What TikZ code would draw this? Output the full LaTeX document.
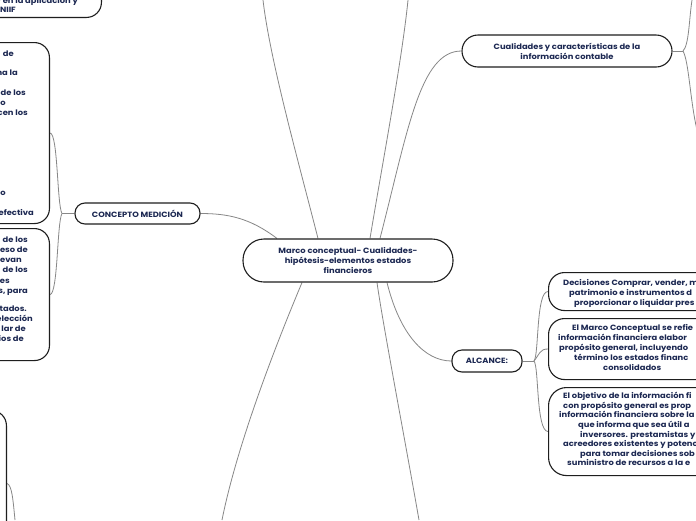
\documentclass[tikz,border=0pt]{standalone}
\usepackage{fontspec}
\setmainfont{Poppins}[FakeStretch=1.1]
\usetikzlibrary{calc,backgrounds}
\definecolor{txt}{RGB}{28,40,82}
\definecolor{edge}{RGB}{30,30,30}
\definecolor{conncol}{RGB}{135,135,135}
\begin{document}
\begin{tikzpicture}[x=1pt,y=-1pt,
  box/.style={draw=edge, line width=1.1pt, fill=white, rounded corners=#1, inner sep=0pt},
  box/.default=15pt,
  lbl/.style={text=txt, font=\bfseries\fontsize{7.6}{9.8}\selectfont, align=center},
  frag/.style={text=txt, font=\bfseries\fontsize{7.6}{9.8}\selectfont, inner sep=0pt},
  conn/.style={draw=conncol, line width=0.8pt},
]
\useasboundingbox (0,0) rectangle (696,520);

% main nodes
\node[box=21pt, lbl, minimum width=210pt, minimum height=43pt] (c) at (348,260.5)
  {Marco conceptual- Cualidades-\\hipótesis-elementos estados\\financieros};
\node[box=16pt, lbl, minimum width=210pt, minimum height=32pt] (cu) at (567,51)
  {Cualidades y características de la\\información contable};
\node[box=10pt, lbl, minimum width=125pt, minimum height=21pt] (co) at (137.5,213.5)
  {CONCEPTO MEDICIÓN};
\node[box=10pt, lbl, minimum width=70pt, minimum height=22pt] (al) at (487,361)
  {ALCANCE:};

% boxes (partly outside the frame)
\node[box, minimum width=220pt, minimum height=70pt, anchor=south east] (b0) at (102,18) {};
\node[box, minimum width=200pt, minimum height=181pt, anchor=north east] (b1) at (50,42) {};
\node[box, minimum width=200pt, minimum height=132pt, anchor=north east] (b2) at (50,228) {};
\node[box, minimum width=200pt, minimum height=146pt, anchor=north east] (b4) at (7,410) {};
\node[box=16pt, minimum width=300pt, minimum height=38pt, anchor=north west] (bA) at (548,272) {};
\node[box=16pt, minimum width=300pt, minimum height=61pt, anchor=north west] (bB) at (548,318) {};
\node[box=18pt, minimum width=300pt, minimum height=88pt, anchor=north west] (bC) at (548,387) {};

% texts of the cut boxes
\node[frag, anchor=base east] (t0a) at (78,3.5) {r en la aplicación y};
\node[frag, anchor=base east] (t0b) at (16,12.5) {NIIF};
\foreach \y/\x/\t [count=\i] in {54/14/de, 73/18/na la, 93/26/de los, 103/6/o, 113/28/cen los, 193/6/o, 213/34/efectiva}
  \node[frag, anchor=base east] (t1-\i) at (\x,\y+2.7) {\t};
\foreach \y/\x/\t [count=\i] in {240/28/de los, 250/28/eso de, 260/22/evan, 270/28/de los, 281/10/es, 291/28/{s, para}, 309/27/tados., 319/33/elección, 329/26/lar de, 339/24/ios de}
  \node[frag, anchor=base east] (t2-\i) at (\x,\y+2.7) {\t};
\foreach \y/\x/\t [count=\i] in {283/563/{Decisiones Comprar, vender, m}, 292.5/569/patrimonio e instrumentos d, 302.5/574/proporcionar o liquidar pres}
  \node[frag, anchor=base west] (tA-\i) at (\x,\y+2.7) {\t};
\foreach \y/\x/\t [count=\i] in {328/572/El Marco Conceptual se refie, 338/558/información financiera elabor, 348/559/{propósito general, incluyendo}, 357.5/574/término los estados financ, 367.5/603/consolidados}
  \node[frag, anchor=base west] (tB-\i) at (\x,\y+2.7) {\t};
\foreach \y/\x/\t [count=\i] in {396/563/El objetivo de la información fi, 405.6/563/con propósito general es prop, 415.2/559/información financiera sobre la, 424.8/578/que informa que sea útil a, 434.4/580/inversores. prestamistas y, 444/563/acreedores existentes y potenc, 453.6/580/para tomar decisiones sob, 463.2/567/suministro de recursos a la e}
  \node[frag, anchor=base west] (tC-\i) at (\x,\y+2.7) {\t};

% free ends
\coordinate (u1) at (263,0);
\coordinate (u2) at (408,0);
\coordinate (d1) at (222,520);
\coordinate (d2) at (419,520);
\coordinate (cb) at (683,51);
\coordinate (cu1) at (692,0);
\coordinate (cu2) at (697,130);
\coordinate (ab) at (534,361);
\coordinate (kb) at (62,213.5);
\coordinate (bl) at (15,520);

\begin{scope}[on background layer]
\fill[white] (0,0) rectangle (696,520);
\draw[conn] ($(c.north)+(-71,0)$) .. controls (250,218) and (228,213.5) .. (co.east);
\draw[conn] ($(c.north)+(-30,0)$) .. controls (298,160) and (270,60) .. (u1);
\draw[conn] ($(c.north)+(22,0)$) .. controls (383,160) and (402,60) .. (u2);
\draw[conn] ($(c.north)+(32,0)$) .. controls (408,130) and (420,51) .. (cu.west);
\draw[conn] ($(c.south)+(-46,0)$) .. controls (280,335) and (238,440) .. (d1);
\draw[conn] ($(c.south)+(29,0)$) .. controls (383,325) and (405,440) .. (d2);
\draw[conn] ($(c.south)+(39,0)$) .. controls (400,335) and (425,361) .. (al.west);
% Cualidades branch
\draw[conn] (cu.east) -- (cb);
\draw[conn] (cb) .. controls (689,45) and (689,20) .. (cu1);
\draw[conn] (cb) .. controls (689,62) and (690,100) .. (cu2);
% ALCANCE branch
\draw[conn] (al.east) -- (ab);
\draw[conn] (ab) .. controls (539,355) and (536,291) .. (bA.west);
\draw[conn] (ab) .. controls (539,355) and (540,348.5) .. (bB.west);
\draw[conn] (ab) .. controls (539,367) and (536,431) .. (bC.west);
% CONCEPTO branch
\draw[conn] (co.west) -- (kb);
\draw[conn] (kb) .. controls (57,205) and (58,133) .. (b1.east);
\draw[conn] (kb) .. controls (57,222) and (58,294) .. (b2.east);
% bottom-left box
\draw[conn] (b4.east) .. controls (12,485) and (13,500) .. (bl);
\end{scope}
\end{tikzpicture}
\end{document}
